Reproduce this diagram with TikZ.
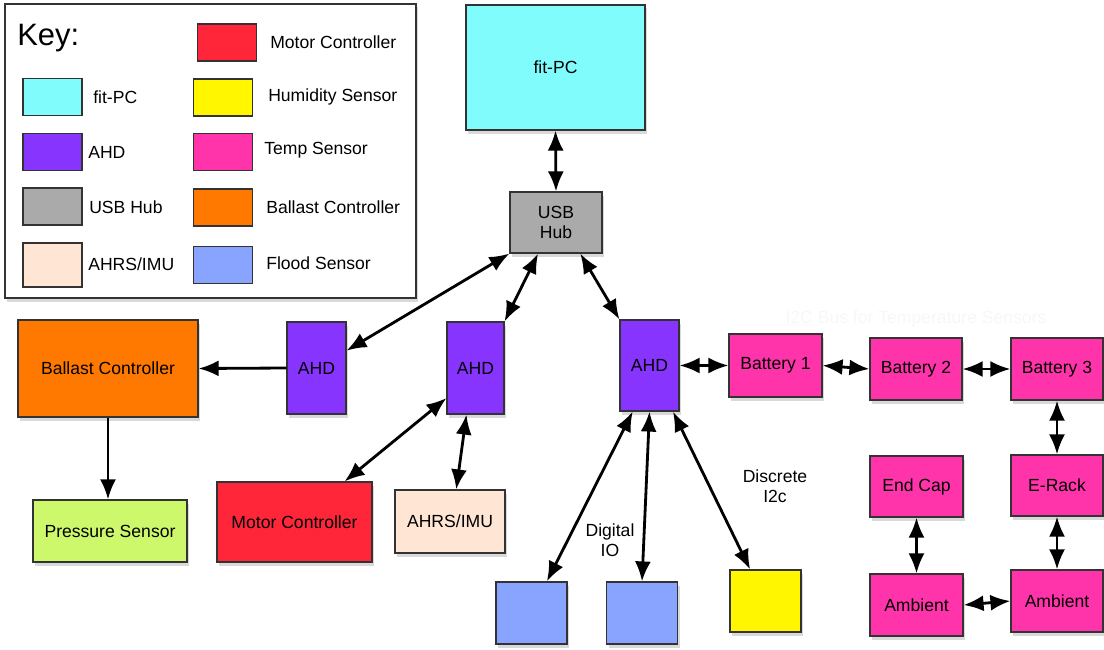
\documentclass[tikz,border=0pt]{standalone}
\usepackage{fontspec}
\setmainfont{Liberation Sans}
\usepackage{tikz}
\usetikzlibrary{arrows.meta,shadows}
\definecolor{fitcyan}{RGB}{128, 252, 252}
\definecolor{ahdpurple}{RGB}{136, 52, 255}
\definecolor{hubgray}{RGB}{170, 170, 170}
\definecolor{imupeach}{RGB}{255, 230, 212}
\definecolor{motorred}{RGB}{255, 38, 58}
\definecolor{humyellow}{RGB}{255, 246, 0}
\definecolor{tempmagenta}{RGB}{255, 52, 170}
\definecolor{ballastorange}{RGB}{255, 120, 0}
\definecolor{floodblue}{RGB}{136, 164, 255}
\definecolor{pressgreen}{RGB}{205, 248, 108}

\begin{document}
\begin{tikzpicture}[x=0.025cm, y=-0.025cm,
        font=\fontsize{12.5}{14.5}\selectfont,
        >={Latex[length=5mm,width=4mm]},
        block/.style={draw=black!80, line width=0.8pt, inner sep=0pt, align=center,
            drop shadow={opacity=0.3, shadow xshift=1.5pt, shadow yshift=-2.5pt}},
        swatch/.style={draw=black!80, line width=0.8pt, inner sep=0pt,
            minimum width=1.475cm, minimum height=0.925cm},
        keytext/.style={anchor=west, inner sep=0pt},
        link/.style={<->, line width=2pt},
        feed/.style={->, line width=2pt}]
        \useasboundingbox (0,0) rectangle (1104,650);

        % Key
        \node[block, fill=white, minimum width=10.275cm, minimum height=7.35cm] (keybox) at (210.5,151) {};
        \node[keytext, font=\fontsize{22}{24}\selectfont] (keytitle) at (17,38) {Key:};
        \node[swatch, fill=fitcyan] (keyfit) at (52.5,97) {};
        \node[keytext] (keyfitlbl) at (93,97) {fit-PC};
        \node[swatch, fill=ahdpurple] (keyahd) at (52.5,152) {};
        \node[keytext] (keyahdlbl) at (88,152) {AHD};
        \node[swatch, fill=hubgray] (keyhub) at (52.5,206.5) {};
        \node[keytext] (keyhublbl) at (89,207) {USB Hub};
        \node[swatch, fill=imupeach, minimum height=1.1cm] (keyimu) at (52.5,265) {};
        \node[keytext] (keyimulbl) at (88,264) {AHRS/IMU};
        \node[swatch, fill=motorred] (keymotor) at (227,42.5) {};
        \node[keytext] (keymotorlbl) at (270,42) {Motor Controller};
        \node[swatch, fill=humyellow] (keyhum) at (223,97.5) {};
        \node[keytext] (keyhumlbl) at (268,97) {Humidity Sensor};
        \node[swatch, fill=tempmagenta] (keytemp) at (223,152) {};
        \node[keytext] (keytemplbl) at (264,150) {Temp Sensor};
        \node[swatch, fill=ballastorange] (keyballast) at (223,207.5) {};
        \node[keytext] (keyballastlbl) at (266,207) {Ballast Controller};
        \node[swatch, fill=floodblue] (keyflood) at (223,265) {};
        \node[keytext] (keyfloodlbl) at (266,263) {Flood Sensor};

        % Computer and hub
        \node[block, fill=fitcyan, minimum width=4.475cm, minimum height=3.125cm] (fitpc) at (555.5,67.5) {fit-PC};
        \node[block, fill=hubgray, minimum width=2.3cm, minimum height=1.525cm] (usbhub) at (556,222.5) {USB\\Hub};

        % AHD boards
        \node[block, fill=ahdpurple, minimum width=1.475cm, minimum height=2.3cm] (ahdA) at (316.5,368) {AHD};
        \node[block, fill=ahdpurple, minimum width=1.425cm, minimum height=2.3cm] (ahdB) at (475.5,368) {AHD};
        \node[block, fill=ahdpurple, minimum width=1.475cm, minimum height=2.275cm] (ahdC) at (649.5,365.5) {AHD};

        % Left branch
        \node[block, fill=ballastorange, minimum width=4.5cm, minimum height=2.425cm] (ballast) at (108,368.5) {Ballast Controller};
        \node[block, fill=pressgreen, minimum width=3.85cm, minimum height=1.55cm] (pressure) at (110,531) {Pressure Sensor};
        \node[block, fill=motorred, minimum width=3.875cm, minimum height=2cm] (motor) at (294.5,522) {Motor Controller};
        \node[block, fill=imupeach, minimum width=2.75cm, minimum height=1.575cm] (ahrs) at (450,521.5) {AHRS/IMU};

        % Sensors under AHD
        \node[block, fill=floodblue, minimum width=1.775cm, minimum height=1.55cm] (floodA) at (531.5,613) {};
        \node[block, fill=floodblue, minimum width=1.775cm, minimum height=1.55cm] (floodB) at (642,613) {};
        \node[block, fill=humyellow, minimum width=1.775cm, minimum height=1.55cm] (humidity) at (765.5,601) {};
        \node (diglbl) at (610,540) [align=center] {Digital\\IO};
        \node (disclbl) at (775,486) [align=center] {Discrete\\I2c};

        % Temperature sensors
        \node (buslbl) at (916,319) [text=black!3] {I2C Bus for Temperature Sensors};
        \node[block, fill=tempmagenta, minimum width=2.325cm, minimum height=1.575cm] (batA) at (775.5,365.5) {Battery 1};
        \node[block, fill=tempmagenta, minimum width=2.3cm, minimum height=1.55cm] (batB) at (916,369) {Battery 2};
        \node[block, fill=tempmagenta, minimum width=2.3cm, minimum height=1.55cm] (batC) at (1057,369) {Battery 3};
        \node[block, fill=tempmagenta, minimum width=2.325cm, minimum height=1.525cm] (endcap) at (916.5,486.5) {End Cap};
        \node[block, fill=tempmagenta, minimum width=2.3cm, minimum height=1.525cm] (erack) at (1057,485.5) {E-Rack};
        \node[block, fill=tempmagenta, minimum width=2.325cm, minimum height=1.55cm] (ambA) at (916.5,605) {Ambient};
        \node[block, fill=tempmagenta, minimum width=2.3cm, minimum height=1.55cm] (ambB) at (1057,601) {Ambient};

        % Connections
        \draw[link] (fitpc.south) -- (usbhub.north);
        \draw[link] (usbhub.south west) -- (ahdA.30);
        \draw[link] (usbhub.-120) -- (ahdB.north east);
        \draw[link] (usbhub.-52) -- (ahdC.north west);
        \draw[feed] (ahdA.west) -- (ballast.east);
        \draw[feed] (ballast.south) -- (ballast.south |- pressure.north);
        \draw[link] (ahdB.-134) -- (motor.39);
        \draw[link] (ahdB.-101) -- (ahrs.79);
        \draw[link] (ahdC.-110) -- (floodA.64);
        \draw[link] (ahdC.south) -- (floodB.north);
        \draw[link] (ahdC.-63) -- (humidity.116);
        \draw[link] (ahdC.east) -- (batA.west);
        \draw[link] (batA.east) -- (batB.west);
        \draw[link] (batB.east) -- (batC.west);
        \draw[link] (batC.south) -- (erack.north);
        \draw[link] (erack.south) -- (ambB.north);
        \draw[link] (endcap.south) -- (ambA.north);
        \draw[link] (ambA.east) -- (ambB.west);
    \end{tikzpicture}
\end{document}
